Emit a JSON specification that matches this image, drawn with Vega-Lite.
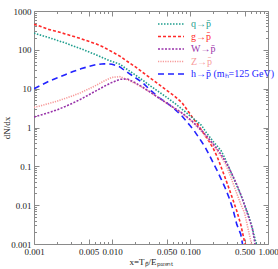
{
"$schema": "https://vega.github.io/schema/vega-lite/v6.json",
"width": 234, "height": 233,
"autosize": {"type": "none"},
"padding": {"left": 34, "top": 11, "right": 10, "bottom": 25},
"background": "white",
"config": {"view": {"stroke": "#8a8a8a", "strokeWidth": 1}, "font": "Liberation Serif",
 "axis": {"labelFont": "Liberation Serif", "titleFont": "Liberation Serif", "labelFontSize": 9, "titleFontSize": 9, "labelColor": "#222", "titleColor": "#222", "titleFontWeight": "normal", "tickColor": "#8a8a8a", "domain": false, "grid": false, "labelOverlap": false, "labelBound": false, "labelFlush": false}},
"datasets": {"curves": [
{"s":"g","x":0.001,"y":457},{"s":"g","x":0.00126,"y":389},{"s":"g","x":0.00158,"y":331},{"s":"g","x":0.002,"y":295},{"s":"g","x":0.00251,"y":257},{"s":"g","x":0.00316,"y":224},{"s":"g","x":0.00398,"y":195},{"s":"g","x":0.00501,"y":166},{"s":"g","x":0.00631,"y":141},{"s":"g","x":0.00794,"y":115},{"s":"g","x":0.01,"y":89},{"s":"g","x":0.0126,"y":69},{"s":"g","x":0.0158,"y":50},{"s":"g","x":0.02,"y":36.3},{"s":"g","x":0.0251,"y":25.7},{"s":"g","x":0.0316,"y":18.2},{"s":"g","x":0.0398,"y":12.9},{"s":"g","x":0.0501,"y":9.1},{"s":"g","x":0.0631,"y":6.5},{"s":"g","x":0.0794,"y":4.3},{"s":"g","x":0.1,"y":2.24},{"s":"g","x":0.112,"y":1.62},{"s":"g","x":0.126,"y":1.2},{"s":"g","x":0.141,"y":0.85},{"s":"g","x":0.158,"y":0.6},{"s":"g","x":0.178,"y":0.42},{"s":"g","x":0.2,"y":0.28},{"s":"g","x":0.224,"y":0.174},{"s":"g","x":0.251,"y":0.095},{"s":"g","x":0.282,"y":0.051},{"s":"g","x":0.316,"y":0.027},{"s":"g","x":0.355,"y":0.0138},{"s":"g","x":0.398,"y":0.0071},{"s":"g","x":0.447,"y":0.0032},{"s":"g","x":0.501,"y":0.00112},{"s":"g","x":0.562,"y":0.00063},
{"s":"q","x":0.001,"y":269},{"s":"q","x":0.00126,"y":234},{"s":"q","x":0.00158,"y":204},{"s":"q","x":0.002,"y":174},{"s":"q","x":0.00251,"y":151},{"s":"q","x":0.00316,"y":126},{"s":"q","x":0.00398,"y":107},{"s":"q","x":0.00501,"y":89},{"s":"q","x":0.00631,"y":74},{"s":"q","x":0.00794,"y":60},{"s":"q","x":0.01,"y":50},{"s":"q","x":0.0126,"y":42.7},{"s":"q","x":0.0158,"y":30.9},{"s":"q","x":0.02,"y":22.4},{"s":"q","x":0.0251,"y":16.2},{"s":"q","x":0.0316,"y":11.5},{"s":"q","x":0.0398,"y":8.3},{"s":"q","x":0.0501,"y":6.0},{"s":"q","x":0.0631,"y":4.27},{"s":"q","x":0.0794,"y":2.95},{"s":"q","x":0.1,"y":2.0},{"s":"q","x":0.112,"y":1.66},{"s":"q","x":0.126,"y":1.38},{"s":"q","x":0.141,"y":1.12},{"s":"q","x":0.158,"y":0.79},{"s":"q","x":0.178,"y":0.575},{"s":"q","x":0.2,"y":0.427},{"s":"q","x":0.224,"y":0.331},{"s":"q","x":0.251,"y":0.251},{"s":"q","x":0.282,"y":0.158},{"s":"q","x":0.316,"y":0.091},{"s":"q","x":0.355,"y":0.054},{"s":"q","x":0.398,"y":0.0316},{"s":"q","x":0.447,"y":0.0186},{"s":"q","x":0.501,"y":0.0102},{"s":"q","x":0.562,"y":0.0056},{"s":"q","x":0.631,"y":0.0025},{"s":"q","x":0.708,"y":0.001},{"s":"q","x":0.75,"y":0.0005},
{"s":"h","x":0.001,"y":10},{"s":"h","x":0.00126,"y":12.6},{"s":"h","x":0.00158,"y":15.8},{"s":"h","x":0.002,"y":19.1},{"s":"h","x":0.00251,"y":22.9},{"s":"h","x":0.00316,"y":27.5},{"s":"h","x":0.00398,"y":32.4},{"s":"h","x":0.00501,"y":37.2},{"s":"h","x":0.00631,"y":41.7},{"s":"h","x":0.00794,"y":43.7},{"s":"h","x":0.01,"y":42.7},{"s":"h","x":0.0126,"y":36.3},{"s":"h","x":0.0158,"y":26.3},{"s":"h","x":0.02,"y":19.1},{"s":"h","x":0.0251,"y":13.8},{"s":"h","x":0.0316,"y":8.9},{"s":"h","x":0.0398,"y":5.9},{"s":"h","x":0.0501,"y":4.4},{"s":"h","x":0.0631,"y":3.0},{"s":"h","x":0.0794,"y":1.95},{"s":"h","x":0.1,"y":1.12},{"s":"h","x":0.112,"y":0.85},{"s":"h","x":0.126,"y":0.6},{"s":"h","x":0.141,"y":0.43},{"s":"h","x":0.158,"y":0.3},{"s":"h","x":0.178,"y":0.19},{"s":"h","x":0.2,"y":0.12},{"s":"h","x":0.224,"y":0.076},{"s":"h","x":0.251,"y":0.047},{"s":"h","x":0.282,"y":0.028},{"s":"h","x":0.316,"y":0.0158},{"s":"h","x":0.355,"y":0.0079},{"s":"h","x":0.398,"y":0.0032},{"s":"h","x":0.447,"y":0.0018},{"s":"h","x":0.501,"y":0.0005},
{"s":"Z","x":0.001,"y":3.3},{"s":"Z","x":0.00126,"y":3.7},{"s":"Z","x":0.00158,"y":4.2},{"s":"Z","x":0.002,"y":4.8},{"s":"Z","x":0.00251,"y":5.6},{"s":"Z","x":0.00316,"y":6.6},{"s":"Z","x":0.00398,"y":7.9},{"s":"Z","x":0.00501,"y":9.8},{"s":"Z","x":0.00631,"y":12.3},{"s":"Z","x":0.00794,"y":15.8},{"s":"Z","x":0.01,"y":19.5},{"s":"Z","x":0.0126,"y":20.4},{"s":"Z","x":0.0158,"y":17.0},{"s":"Z","x":0.02,"y":13.5},{"s":"Z","x":0.0251,"y":10.5},{"s":"Z","x":0.0316,"y":7.9},{"s":"Z","x":0.0398,"y":5.75},{"s":"Z","x":0.0501,"y":4.27},{"s":"Z","x":0.0631,"y":3.16},{"s":"Z","x":0.0794,"y":2.29},{"s":"Z","x":0.1,"y":1.58},{"s":"Z","x":0.112,"y":1.26},{"s":"Z","x":0.126,"y":1.0},{"s":"Z","x":0.141,"y":0.79},{"s":"Z","x":0.158,"y":0.6},{"s":"Z","x":0.178,"y":0.457},{"s":"Z","x":0.2,"y":0.339},{"s":"Z","x":0.224,"y":0.251},{"s":"Z","x":0.251,"y":0.178},{"s":"Z","x":0.282,"y":0.12},{"s":"Z","x":0.316,"y":0.071},{"s":"Z","x":0.355,"y":0.038},{"s":"Z","x":0.398,"y":0.02},{"s":"Z","x":0.447,"y":0.0107},{"s":"Z","x":0.501,"y":0.0063},{"s":"Z","x":0.562,"y":0.0022},{"s":"Z","x":0.631,"y":0.0008},
{"s":"W","x":0.001,"y":1.86},{"s":"W","x":0.00126,"y":2.14},{"s":"W","x":0.00158,"y":2.45},{"s":"W","x":0.002,"y":2.88},{"s":"W","x":0.00251,"y":3.47},{"s":"W","x":0.00316,"y":4.27},{"s":"W","x":0.00398,"y":5.37},{"s":"W","x":0.00501,"y":6.9},{"s":"W","x":0.00631,"y":8.9},{"s":"W","x":0.00794,"y":11.5},{"s":"W","x":0.01,"y":14.5},{"s":"W","x":0.0126,"y":17.4},{"s":"W","x":0.0158,"y":17.8},{"s":"W","x":0.02,"y":14.1},{"s":"W","x":0.0251,"y":10.7},{"s":"W","x":0.0316,"y":7.9},{"s":"W","x":0.0398,"y":5.75},{"s":"W","x":0.0501,"y":4.27},{"s":"W","x":0.0631,"y":3.16},{"s":"W","x":0.0794,"y":2.34},{"s":"W","x":0.1,"y":1.62},{"s":"W","x":0.112,"y":1.32},{"s":"W","x":0.126,"y":1.05},{"s":"W","x":0.141,"y":0.83},{"s":"W","x":0.158,"y":0.65},{"s":"W","x":0.178,"y":0.49},{"s":"W","x":0.2,"y":0.37},{"s":"W","x":0.224,"y":0.275},{"s":"W","x":0.251,"y":0.2},{"s":"W","x":0.282,"y":0.138},{"s":"W","x":0.316,"y":0.093},{"s":"W","x":0.355,"y":0.056},{"s":"W","x":0.398,"y":0.034},{"s":"W","x":0.447,"y":0.019},{"s":"W","x":0.501,"y":0.01},{"s":"W","x":0.562,"y":0.005},{"s":"W","x":0.631,"y":0.0025},{"s":"W","x":0.708,"y":0.00063}
]},
"layer": [
{"data": {"name": "curves"},
 "mark": {"type": "line", "clip": true, "strokeWidth": 1.6},
 "encoding": {
  "x": {"field": "x", "type": "quantitative", "scale": {"type": "log", "domain": [0.001, 1], "nice": false},
        "axis": {"orient": "bottom", "values": [0.001, 0.005, 0.01, 0.05, 0.1, 0.5, 1], "format": ".3f", "tickSize": -5, "labelPadding": 8, "title": "x=T\u209a\u0304/E\u209a\u2090\u1d63\u2091\u2099\u209c", "titleY": 20, "titleBaseline": "alphabetic", "titleFontSize": 9}},
  "y": {"field": "y", "type": "quantitative", "scale": {"type": "log", "domain": [0.001, 1000], "nice": false},
        "axis": {"orient": "left", "values": [0.001, 0.01, 0.1, 1, 10, 100, 1000], "format": "~g", "tickSize": -5, "labelPadding": 8, "title": "dN/dx", "titleX": -23, "titleBaseline": "bottom", "titleAngle": -90}},
  "color": {"field": "s", "type": "nominal",
        "scale": {"domain": ["q", "g", "W", "Z", "h"], "range": ["#1f9e8e", "#ff2a2a", "#9933aa", "#f79a9a", "#2222ff"]},
        "legend": {"orient": "none", "legendX": 131, "legendY": 7, "title": null, "padding": 0, "rowPadding": 1.5, "symbolType": "M-2.6,0H2.6", "symbolSize": 100, "symbolStrokeWidth": 1.6, "labelOffset": 14, "labelFont": "Liberation Serif", "labelFontSize": 10,
          "labelExpr": "datum.label == 'q' ? 'q\u2192p\u0304' : datum.label == 'g' ? 'g\u2192p\u0304' : datum.label == 'W' ? 'W\u2192p\u0304' : datum.label == 'Z' ? 'Z\u2192p\u0304' : 'h\u2192p\u0304 (m\u2095=125 GeV)'",
          "encode": {"labels": {"update": {"fill": {"scale": "color", "field": "value"}}}}}},
  "strokeDash": {"field": "s", "type": "nominal",
        "scale": {"domain": ["q", "g", "W", "Z", "h"], "range": [[1.5, 1.5], [3, 2], [2, 1.5], [1.2, 1.2], [6, 4]]},
        "legend": {"orient": "none", "legendX": 131, "legendY": 7, "title": null, "padding": 0, "rowPadding": 1.5, "symbolType": "M-2.6,0H2.6", "symbolSize": 100, "symbolStrokeWidth": 1.6, "labelOffset": 14, "labelFont": "Liberation Serif", "labelFontSize": 10,
          "labelExpr": "datum.label == 'q' ? 'q\u2192p\u0304' : datum.label == 'g' ? 'g\u2192p\u0304' : datum.label == 'W' ? 'W\u2192p\u0304' : datum.label == 'Z' ? 'Z\u2192p\u0304' : 'h\u2192p\u0304 (m\u2095=125 GeV)'",
          "encode": {"labels": {"update": {"fill": {"scale": "color", "field": "value"}}}}}}
 }},
{"data": {"name": "curves"},
 "mark": {"type": "point", "opacity": 0},
 "encoding": {
  "x": {"field": "x", "type": "quantitative", "axis": {"orient": "bottom", "values": [0.002,0.003,0.004,0.006,0.007,0.008,0.009,0.02,0.03,0.04,0.06,0.07,0.08,0.09,0.2,0.3,0.4,0.6,0.7,0.8,0.9], "labels": false, "tickSize": -2.5, "title": null}},
  "y": {"field": "y", "type": "quantitative", "axis": {"orient": "left", "values": [0.002,0.003,0.004,0.005,0.006,0.007,0.008,0.009,0.02,0.03,0.04,0.05,0.06,0.07,0.08,0.09,0.2,0.3,0.4,0.5,0.6,0.7,0.8,0.9,2,3,4,5,6,7,8,9,20,30,40,50,60,70,80,90,200,300,400,500,600,700,800,900], "labels": false, "tickSize": -2.5, "title": null}}
 }},
{"data": {"name": "curves"},
 "mark": {"type": "point", "opacity": 0},
 "encoding": {
  "x": {"field": "x", "type": "quantitative", "axis": {"orient": "top", "values": [0.001, 0.005, 0.01, 0.05, 0.1, 0.5, 1], "labels": false, "tickSize": -5, "title": null}},
  "y": {"field": "y", "type": "quantitative", "axis": {"orient": "right", "values": [0.001, 0.01, 0.1, 1, 10, 100, 1000], "labels": false, "tickSize": -5, "title": null}}
 }},
{"data": {"name": "curves"},
 "mark": {"type": "point", "opacity": 0},
 "encoding": {
  "x": {"field": "x", "type": "quantitative", "axis": {"orient": "top", "values": [0.002,0.003,0.004,0.006,0.007,0.008,0.009,0.02,0.03,0.04,0.06,0.07,0.08,0.09,0.2,0.3,0.4,0.6,0.7,0.8,0.9], "labels": false, "tickSize": -2.5, "title": null}},
  "y": {"field": "y", "type": "quantitative", "axis": {"orient": "right", "values": [0.002,0.003,0.004,0.005,0.006,0.007,0.008,0.009,0.02,0.03,0.04,0.05,0.06,0.07,0.08,0.09,0.2,0.3,0.4,0.5,0.6,0.7,0.8,0.9,2,3,4,5,6,7,8,9,20,30,40,50,60,70,80,90,200,300,400,500,600,700,800,900], "labels": false, "tickSize": -2.5, "title": null}}
 }}
],
"resolve": {"axis": {"x": "independent", "y": "independent"}}
}
